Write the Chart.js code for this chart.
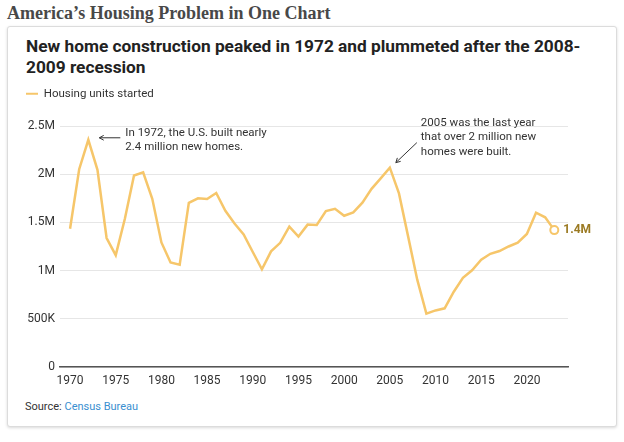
<!DOCTYPE html>
<html>
<head>
<meta charset="utf-8">
<script src="https://cdn.jsdelivr.net/npm/chart.js@4.4.1/dist/chart.umd.min.js"></script>
<style>
  body { margin: 0; width: 624px; height: 442px; background: #fff; position: relative; overflow: hidden; font-family: Roboto, sans-serif; }
  #pageTitle { position: absolute; left: 7px; top: 2px; font: bold 18px "Liberation Serif", serif; line-height: 22px; color: #484848; }
  #card { position: absolute; left: 7px; top: 26px; width: 608px; height: 399px; border: 1px solid #dcdcdc; border-radius: 3px; box-shadow: 0 1px 3px rgba(0,0,0,0.15); background: #fff; }
  #chartTitle { position: absolute; left: 18px; top: 9px; font-weight: 700; font-size: 17.3px; line-height: 21px; color: #222; }
  #chartBox { position: absolute; left: 0; top: 56px; width: 608px; height: 314px; }
  #source { position: absolute; left: 17px; top: 373px; font-size: 11px; line-height: 14px; color: #333; }
  #source span { color: #3a8fd0; }
</style>
</head>
<body>
<div id="pageTitle">America’s Housing Problem in One Chart</div>
<div id="card">
  <div id="chartTitle">New home construction peaked in 1972 and plummeted after the 2008-<br>2009 recession</div>
  <div id="chartBox"><canvas id="housingChart"></canvas></div>
  <div id="source">Source: <span>Census Bureau</span></div>
</div>
<script>
const Years = [1970,1971,1972,1973,1974,1975,1976,1977,1978,1979,
  1980,1981,1982,1983,1984,1985,1986,1987,1988,1989,
  1990,1991,1992,1993,1994,1995,1996,1997,1998,1999,
  2000,2001,2002,2003,2004,2005,2006,2007,2008,2009,
  2010,2011,2012,2013,2014,2015,2016,2017,2018,2019,
  2020,2021,2022,2023];
const HousingStarts = [1434000,2052000,2357000,2045000,1338000,1160000,1538000,1987000,2020000,1745000,
  1292000,1084000,1062000,1703000,1750000,1742000,1805000,1621000,1488000,1376000,
  1193000,1014000,1200000,1288000,1457000,1354000,1477000,1474000,1617000,1641000,
  1569000,1603000,1705000,1848000,1956000,2068000,1801000,1355000,906000,554000,
  587000,609000,781000,925000,1003000,1112000,1174000,1203000,1250000,1290000,
  1380000,1601000,1553000,1420000];
const XTicks = [1970,1975,1980,1985,1990,1995,2000,2005,2010,2015,2020];
const YTicks = [0,500000,1000000,1500000,2000000,2500000];
const YTickLabels = ['0','500K','1M','1.5M','2M','2.5M'];
const LastLabel = '1.4M';
const Notes = [
  { year: 1972, lines: ['In 1972, the U.S. built nearly', '2.4 million new homes.'] },
  { year: 2005, lines: ['2005 was the last year', 'that over 2 million new', 'homes were built.'] }
];

const LINE_COLOR = '#f6c66a';
const TEXT_COLOR = '#333';

const points = Years.map((y, i) => ({ x: y, y: HousingStarts[i] }));
const lastIndex = points.length - 1;

const legendSpacing = {
  id: 'legendSpacing',
  beforeInit(chart) {
    const fit = chart.legend.fit;
    chart.legend.fit = function () {
      fit.bind(chart.legend)();
      this.height = 43;
    };
  }
};

function drawArrow(ctx, x1, y1, x2, y2) {
  // line from tail (x1,y1) to head (x2,y2)
  const ang = Math.atan2(y2 - y1, x2 - x1);
  ctx.beginPath();
  ctx.moveTo(x1, y1);
  ctx.lineTo(x2, y2);
  ctx.moveTo(x2 - 5 * Math.cos(ang - 0.5), y2 - 5 * Math.sin(ang - 0.5));
  ctx.lineTo(x2, y2);
  ctx.lineTo(x2 - 5 * Math.cos(ang + 0.5), y2 - 5 * Math.sin(ang + 0.5));
  ctx.stroke();
}

const annotations = {
  id: 'annotations',
  afterDatasetsDraw(chart) {
    const ctx = chart.ctx;
    const xs = chart.scales.x, ys = chart.scales.y;
    ctx.save();
    ctx.strokeStyle = TEXT_COLOR;
    ctx.fillStyle = TEXT_COLOR;
    ctx.lineWidth = 1;
    ctx.font = '11.5px Roboto';
    ctx.textBaseline = 'middle';
    ctx.textAlign = 'left';

    // 1972 note
    let n = Notes[0];
    let px = xs.getPixelForValue(n.year);
    let py = ys.getPixelForValue(HousingStarts[Years.indexOf(n.year)]);
    drawArrow(ctx, px + 32, py - 2, px + 11, py - 2);
    n.lines.forEach((t, i) => ctx.fillText(t, px + 37, py - 7 + i * 14));

    // 2005 note
    n = Notes[1];
    px = xs.getPixelForValue(n.year);
    py = ys.getPixelForValue(HousingStarts[Years.indexOf(n.year)]);
    drawArrow(ctx, px + 27, py - 25, px + 6, py - 5);
    n.lines.forEach((t, i) => ctx.fillText(t, px + 31, py - 45 + i * 14.5));

    // end label
    const lx = xs.getPixelForValue(Years[lastIndex]);
    const ly = ys.getPixelForValue(HousingStarts[lastIndex]);
    ctx.font = 'bold 12px Roboto';
    ctx.fillStyle = '#9b7a22';
    ctx.fillText(LastLabel, lx + 9, ly);
    ctx.restore();
  }
};

new Chart(document.getElementById('housingChart').getContext('2d'), {
  type: 'line',
  data: {
    datasets: [{
      label: 'Housing units started',
      data: points,
      borderColor: LINE_COLOR,
      backgroundColor: LINE_COLOR,
      borderWidth: 2.5,
      tension: 0,
      pointRadius: ctx => ctx.dataIndex === lastIndex ? 4 : 0,
      pointHoverRadius: 0,
      pointBackgroundColor: '#fff',
      pointBorderColor: LINE_COLOR,
      pointBorderWidth: 2
    }]
  },
  options: {
    responsive: true,
    maintainAspectRatio: false,
    animation: false,
    layout: { padding: { left: 13, right: 48, top: 0, bottom: 0 } },
    plugins: {
      legend: {
        position: 'top',
        align: 'start',
        labels: {
          usePointStyle: true,
          pointStyle: 'line',
          pointStyleWidth: 12,
          padding: 5,
          color: TEXT_COLOR,
          font: { family: 'Roboto', size: 11.5 }
        }
      },
      tooltip: { enabled: false }
    },
    scales: {
      x: {
        type: 'linear',
        min: 1968.9,
        max: 2024.5,
        afterBuildTicks: scale => { scale.ticks = XTicks.map(v => ({ value: v })); },
        afterFit: scale => { scale.height = 30; },
        grid: { display: false },
        border: { display: true, color: '#555', width: 1.5 },
        ticks: {
          padding: -1,
          color: TEXT_COLOR,
          font: { family: 'Roboto', size: 12 },
          maxRotation: 0,
          callback: v => String(v)
        }
      },
      y: {
        min: 0,
        max: 2500000,
        afterBuildTicks: scale => { scale.ticks = YTicks.map(v => ({ value: v })); },
        afterFit: scale => { scale.width = 39; },
        grid: { color: '#e6e6e6', drawTicks: false },
        border: { display: false },
        ticks: {
          padding: 5,
          color: TEXT_COLOR,
          font: { family: 'Roboto', size: 12 },
          callback: v => YTickLabels[YTicks.indexOf(v)]
        }
      }
    }
  },
  plugins: [legendSpacing, annotations]
});
</script>
</body>
</html>
